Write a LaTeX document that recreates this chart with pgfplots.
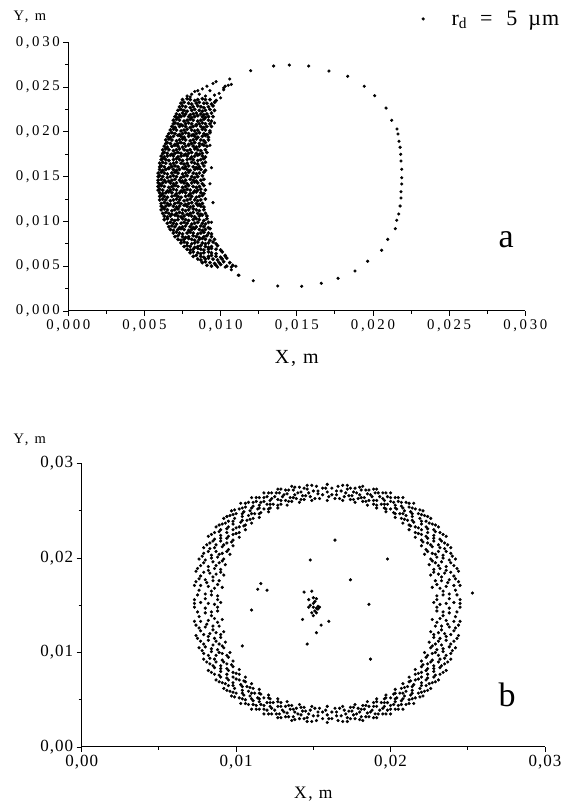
\documentclass[border=0pt]{standalone}
\usepackage{fontspec}
\setmainfont{Liberation Serif}
\newfontfamily\ftickA[LetterSpace=18]{Liberation Serif}
\newfontfamily\ftickB[LetterSpace=6]{Liberation Serif}
\newfontfamily\flab[LetterSpace=10]{Liberation Serif}
\newfontfamily\flabY[LetterSpace=18]{Liberation Serif}
\usepackage{pgfplots}
\pgfplotsset{compat=1.18}
\pgfplotsset{
  myax/.style={
    scale only axis,
    axis x line=bottom, axis y line=left,
    axis line style={-, line width=1pt},
    every outer x axis line/.append style={-},
    every outer y axis line/.append style={-},
    tick align=outside,
    major tick length=5pt, minor tick length=3pt,
    tick style={line width=0.9pt, black},
    minor tick num=1,
    scaled ticks=false,
    /pgf/number format/assume math mode=true,
    clip=false,
    xmin=0, xmax=0.03, ymin=0, ymax=0.03,
  }
}
\begin{document}
\begin{tikzpicture}
\useasboundingbox (0pt,0pt) rectangle (564pt,805pt);
% ---------------- panel a ----------------
\begin{axis}[myax, at={(68.3pt,494pt)}, anchor=south west,
  width=457pt, height=268.7pt,
  xtick={0,0.005,0.01,0.015,0.02,0.025,0.03},
  ytick={0,0.005,0.01,0.015,0.02,0.025,0.03},
  tick label style={font=\ftickA\fontsize{14.8}{17}\selectfont},
  xticklabel style={/pgf/number format/fixed, /pgf/number format/fixed zerofill, /pgf/number format/precision=3, /pgf/number format/use comma},
  yticklabel style={/pgf/number format/fixed, /pgf/number format/fixed zerofill, /pgf/number format/precision=3, /pgf/number format/use comma},
  legend style={at={(rel axis cs:0.773,1.087)}, anchor=west, draw=none, fill=none, inner sep=0pt, column sep=25pt},
]
% sparse drops (outer arc and edges of the cloud)
\addplot[only marks, mark=*, mark size=1.4pt, black] table[x expr=\thisrowno{0}/1000, y expr=\thisrowno{1}/1000] {
11.97 26.83
13.48 27.35
14.51 27.46
15.78 27.35
17.11 26.79
18.34 26.20
19.43 25.09
20.11 24.04
20.86 22.66
21.23 21.29
21.58 20.32
21.64 19.76
21.71 18.95
21.78 18.28
21.82 17.49
21.84 16.75
21.89 15.82
21.89 14.88
21.89 14.18
21.84 13.32
21.84 12.62
21.78 11.72
21.69 10.83
21.56 10.13
21.47 9.19
20.97 8.00
20.57 6.78
19.65 5.55
18.82 4.47
17.71 3.65
16.61 3.09
15.32 2.76
13.75 2.79
12.14 3.38
11.16 3.99
10.7 4.9
10.3 4.9
11.2 4.0
10.7 4.6
11.0 5.0
9.8 4.9
10.3 6.1
10.6 25.9
10.7 25.3
10.3 25.1
10.2 24.7
10.5 25.2
10.2 24.9
9.7 25.6
9.5 25.4
9.1 25.1
8.8 24.8
8.3 24.5
8.0 23.9
9.9 24.3
9.3 24.6
8.6 24.2
9.0 24.0
8.5 24.6
9.6 24.1
8.1 24.2
7.8 24.0
10.0 23.8
9.4 9.9
9.5 12.1
9.3 14.2
9.4 16.0
9.3 18.5
9.6 21.0
};
\addlegendentry{\fontsize{22}{26}\selectfont r\textsubscript{d}\hspace{13pt}=\hspace{14pt}5\hspace{11pt}µ\hspace{1pt}m}
% dense cloud
\addplot[only marks, mark=*, mark size=1.7pt, black, forget plot] table[x expr=\thisrowno{0}/1000, y expr=\thisrowno{1}/1000] {
7.5 23.6
7.8 23.7
8.0 23.6
8.3 23.5
8.5 23.6
8.8 23.7
9.0 23.6
9.3 23.6
9.7 23.5
7.4 23.2
7.6 23.3
7.9 23.2
8.1 23.1
8.4 23.2
8.6 23.3
8.9 23.2
9.1 23.2
9.4 23.1
9.6 23.3
7.3 22.8
7.5 22.9
7.7 22.8
8.0 22.7
8.2 22.8
8.5 22.9
8.7 22.8
8.9 22.7
9.2 22.8
9.5 22.9
7.2 22.4
7.4 22.5
7.6 22.4
7.8 22.3
8.1 22.4
8.3 22.5
8.6 22.4
8.8 22.3
9.0 22.4
9.3 22.5
9.6 22.4
7.1 22.0
7.3 21.9
7.5 22.1
7.7 22.0
8.0 21.9
8.2 22.0
8.4 22.1
8.7 22.0
8.9 21.9
9.1 22.0
9.4 22.1
7.0 21.7
7.2 21.6
7.4 21.7
7.6 21.8
7.9 21.7
8.1 21.6
8.3 21.7
8.5 21.8
8.8 21.7
9.0 21.6
9.2 21.7
9.5 21.7
6.9 21.3
7.1 21.4
7.3 21.3
7.6 21.2
7.8 21.3
8.0 21.4
8.2 21.3
8.5 21.2
8.7 21.3
8.9 21.4
9.2 21.3
9.4 21.2
6.9 20.9
7.0 21.0
7.2 20.9
7.4 20.8
7.7 20.9
7.9 21.0
8.1 20.9
8.4 20.8
8.6 20.9
8.8 21.0
9.0 20.9
9.3 20.9
6.8 20.6
7.0 20.5
7.3 20.6
7.5 20.7
7.7 20.6
8.0 20.5
8.2 20.6
8.4 20.7
8.7 20.6
8.9 20.5
9.1 20.6
9.4 20.6
6.7 20.2
6.9 20.3
7.1 20.2
7.4 20.1
7.6 20.2
7.8 20.3
8.1 20.2
8.3 20.1
8.5 20.2
8.8 20.3
9.0 20.2
9.3 20.1
6.6 19.8
6.8 19.9
7.0 19.8
7.3 19.7
7.5 19.8
7.7 19.9
7.9 19.8
8.2 19.7
8.4 19.8
8.6 19.9
8.9 19.8
9.1 19.7
9.3 19.9
6.5 19.5
6.7 19.4
6.9 19.5
7.2 19.6
7.4 19.5
7.6 19.4
7.9 19.5
8.1 19.6
8.3 19.5
8.5 19.4
8.8 19.5
9.0 19.6
9.2 19.4
6.4 19.1
6.6 19.2
6.8 19.1
7.1 19.0
7.3 19.1
7.5 19.2
7.7 19.1
8.0 19.0
8.2 19.1
8.4 19.2
8.7 19.1
8.9 19.0
9.2 19.1
6.4 18.7
6.5 18.8
6.7 18.7
7.0 18.6
7.2 18.7
7.4 18.8
7.6 18.7
7.9 18.6
8.1 18.7
8.3 18.8
8.6 18.7
8.8 18.6
9.0 18.8
6.3 18.4
6.5 18.3
6.8 18.4
7.0 18.5
7.2 18.4
7.5 18.3
7.7 18.4
7.9 18.5
8.2 18.4
8.4 18.3
8.6 18.4
8.9 18.5
9.1 18.4
6.2 18.0
6.4 18.1
6.6 18.0
6.9 17.9
7.1 18.0
7.3 18.1
7.6 18.0
7.8 17.9
8.0 18.0
8.3 18.1
8.5 18.0
8.7 17.9
9.0 18.0
6.2 17.6
6.3 17.7
6.5 17.6
6.8 17.5
7.0 17.6
7.2 17.7
7.4 17.6
7.7 17.5
7.9 17.6
8.1 17.7
8.4 17.6
8.6 17.5
8.8 17.6
9.1 17.7
6.1 17.3
6.3 17.2
6.5 17.3
6.7 17.4
6.9 17.3
7.2 17.2
7.4 17.3
7.6 17.4
7.8 17.3
8.1 17.2
8.3 17.3
8.5 17.4
8.8 17.3
9.0 17.2
6.1 16.9
6.2 17.0
6.4 16.9
6.6 16.8
6.9 16.9
7.1 17.0
7.3 16.9
7.5 16.8
7.8 16.9
8.0 17.0
8.2 16.9
8.5 16.8
8.7 16.9
8.9 17.0
6.0 16.5
6.2 16.6
6.4 16.5
6.7 16.4
6.9 16.5
7.1 16.6
7.4 16.5
7.6 16.4
7.8 16.5
8.1 16.6
8.3 16.5
8.5 16.4
8.8 16.5
9.0 16.6
6.0 16.1
6.1 16.2
6.3 16.1
6.6 16.0
6.8 16.1
7.0 16.2
7.2 16.1
7.5 16.0
7.7 16.1
7.9 16.2
8.2 16.1
8.4 16.0
8.6 16.1
8.9 16.2
6.0 15.8
6.2 15.7
6.4 15.8
6.6 15.9
6.9 15.8
7.1 15.7
7.3 15.8
7.6 15.9
7.8 15.8
8.0 15.7
8.3 15.8
8.5 15.9
8.7 15.8
9.0 15.7
5.9 15.4
6.1 15.5
6.3 15.4
6.5 15.3
6.8 15.4
7.0 15.5
7.2 15.4
7.5 15.3
7.7 15.4
7.9 15.5
8.2 15.4
8.4 15.3
8.6 15.4
8.9 15.5
5.9 15.0
6.0 15.1
6.2 15.0
6.5 14.9
6.7 15.0
6.9 15.1
7.1 15.0
7.4 14.9
7.6 15.0
7.8 15.1
8.1 15.0
8.3 14.9
8.5 15.0
8.8 15.1
5.9 14.6
6.1 14.7
6.3 14.6
6.6 14.5
6.8 14.6
7.0 14.7
7.3 14.6
7.5 14.5
7.7 14.6
8.0 14.7
8.2 14.6
8.4 14.5
8.7 14.6
8.9 14.7
5.9 14.3
6.0 14.2
6.2 14.3
6.4 14.4
6.7 14.3
6.9 14.2
7.1 14.3
7.4 14.4
7.6 14.3
7.8 14.2
8.1 14.3
8.3 14.4
8.5 14.3
8.8 14.2
5.9 13.9
6.1 14.0
6.3 13.9
6.6 13.8
6.8 13.9
7.0 14.0
7.2 13.9
7.5 13.8
7.7 13.9
7.9 14.0
8.2 13.9
8.4 13.8
8.6 13.9
8.9 14.0
5.9 13.5
6.0 13.6
6.2 13.5
6.5 13.4
6.7 13.5
6.9 13.6
7.1 13.5
7.4 13.4
7.6 13.5
7.8 13.6
8.0 13.5
8.3 13.4
8.5 13.5
8.7 13.6
9.0 13.5
6.0 13.2
6.2 13.1
6.4 13.2
6.6 13.3
6.8 13.2
7.1 13.1
7.3 13.2
7.5 13.3
7.7 13.2
8.0 13.1
8.2 13.2
8.4 13.3
8.7 13.2
8.9 13.1
6.0 12.8
6.1 12.9
6.3 12.8
6.5 12.7
6.8 12.8
7.0 12.9
7.2 12.8
7.4 12.7
7.7 12.8
7.9 12.9
8.1 12.8
8.4 12.7
8.6 12.8
8.8 12.9
6.0 12.4
6.2 12.5
6.4 12.4
6.7 12.3
6.9 12.4
7.1 12.5
7.3 12.4
7.6 12.3
7.8 12.4
8.0 12.5
8.3 12.4
8.5 12.3
8.7 12.4
9.0 12.5
6.1 12.0
6.3 12.1
6.5 12.0
6.7 11.9
7.0 12.0
7.2 12.1
7.4 12.0
7.7 11.9
7.9 12.0
8.1 12.1
8.4 12.0
8.6 11.9
8.8 12.0
6.1 11.7
6.2 11.6
6.4 11.7
6.6 11.8
6.9 11.7
7.1 11.6
7.3 11.7
7.6 11.8
7.8 11.7
8.0 11.6
8.2 11.7
8.5 11.8
8.7 11.7
8.9 11.6
6.1 11.3
6.3 11.4
6.5 11.3
6.8 11.2
7.0 11.3
7.2 11.4
7.5 11.3
7.7 11.2
7.9 11.3
8.2 11.4
8.4 11.3
8.6 11.2
8.9 11.3
6.2 10.9
6.4 11.0
6.6 10.9
6.8 10.8
7.1 10.9
7.3 11.0
7.5 10.9
7.8 10.8
8.0 10.9
8.2 11.0
8.5 10.9
8.7 10.8
9.0 10.9
6.3 10.6
6.5 10.5
6.7 10.6
7.0 10.7
7.2 10.6
7.4 10.5
7.6 10.6
7.9 10.7
8.1 10.6
8.3 10.5
8.6 10.6
8.8 10.7
9.1 10.6
6.3 10.2
6.5 10.3
6.8 10.2
7.0 10.1
7.2 10.2
7.5 10.3
7.7 10.2
7.9 10.1
8.2 10.2
8.4 10.3
8.6 10.2
8.9 10.1
9.1 10.3
6.5 9.8
6.7 9.9
6.9 9.8
7.1 9.7
7.4 9.8
7.6 9.9
7.8 9.8
8.1 9.7
8.3 9.8
8.5 9.9
8.8 9.8
9.0 9.7
9.2 9.9
6.6 9.4
6.8 9.5
7.0 9.4
7.3 9.3
7.5 9.4
7.7 9.5
8.0 9.4
8.2 9.3
8.4 9.4
8.7 9.5
8.9 9.4
9.2 9.3
6.7 9.1
6.9 9.0
7.2 9.1
7.4 9.2
7.6 9.1
7.9 9.0
8.1 9.1
8.3 9.2
8.6 9.1
8.8 9.0
9.0 9.1
9.3 9.2
6.9 8.7
7.1 8.8
7.3 8.7
7.5 8.6
7.8 8.7
8.0 8.8
8.2 8.7
8.5 8.6
8.7 8.7
8.9 8.8
9.2 8.7
9.4 8.6
7.0 8.3
7.2 8.4
7.5 8.3
7.7 8.2
7.9 8.3
8.2 8.4
8.4 8.3
8.6 8.2
8.9 8.3
9.1 8.4
9.4 8.3
7.2 8.0
7.4 7.9
7.6 8.0
7.9 8.1
8.1 8.0
8.3 7.9
8.6 8.0
8.8 8.1
9.0 8.0
9.3 7.9
9.6 8.0
7.4 7.6
7.6 7.7
7.8 7.6
8.1 7.5
8.3 7.6
8.5 7.7
8.8 7.6
9.0 7.5
9.2 7.6
9.5 7.7
9.7 7.5
7.6 7.2
7.8 7.3
8.0 7.2
8.3 7.1
8.5 7.2
8.7 7.3
9.0 7.2
9.2 7.1
9.4 7.2
9.8 7.3
7.8 6.9
8.0 6.8
8.2 6.9
8.5 7.0
8.7 6.9
8.9 6.8
9.2 6.9
9.4 7.0
9.7 6.9
10.0 6.8
8.0 6.5
8.2 6.6
8.5 6.5
8.7 6.4
8.9 6.5
9.2 6.6
9.4 6.5
9.7 6.4
10.1 6.6
8.2 6.1
8.4 6.2
8.7 6.1
8.9 6.0
9.2 6.1
9.4 6.2
9.7 6.1
10.0 6.0
10.3 6.2
8.5 5.8
8.7 5.7
9.0 5.8
9.2 5.9
9.5 5.8
9.8 5.7
10.1 5.8
10.4 5.9
8.8 5.4
9.0 5.5
9.3 5.4
9.6 5.3
9.9 5.4
10.2 5.5
10.6 5.4
9.1 5.1
9.4 5.0
9.7 5.1
10.0 5.2
10.4 5.0
10.8 5.1
};
\node[font=\flabY\fontsize{14.5}{17}\selectfont] at (rel axis cs:-0.084,1.094) {Y, m};
\node[font=\flab\fontsize{20}{24}\selectfont] at (rel axis cs:0.5,-0.175) {X, m};
\node[font=\fontsize{34}{40}\selectfont] at (rel axis cs:0.958,0.264) {a};
\end{axis}
% ---------------- panel b ----------------
\begin{axis}[myax, at={(81.7pt,58pt)}, anchor=south west,
  width=463.3pt, height=283.4pt,
  xtick={0,0.01,0.02,0.03},
  ytick={0,0.01,0.02,0.03},
  tick label style={font=\ftickB\fontsize{17}{20}\selectfont},
  xticklabel style={/pgf/number format/fixed, /pgf/number format/fixed zerofill, /pgf/number format/precision=2, /pgf/number format/use comma},
  yticklabel style={/pgf/number format/fixed, /pgf/number format/fixed zerofill, /pgf/number format/precision=2, /pgf/number format/use comma},
]
\addplot[only marks, mark=*, mark size=1.4pt, black] table[x expr=\thisrowno{0}/1000, y expr=\thisrowno{1}/1000] {
22.8 15.3
23.2 15.1
23.6 15.2
24.1 15.3
24.5 15.2
23.0 16.0
23.4 16.1
23.8 16.2
24.3 16.1
22.7 16.9
23.2 16.8
23.6 17.0
24.1 17.1
24.5 17.1
22.9 17.6
23.3 17.6
23.8 17.7
24.2 17.8
22.6 18.2
23.1 18.3
23.5 18.4
23.9 18.5
24.4 18.6
22.8 18.8
23.2 18.9
23.6 19.1
24.1 19.2
22.5 19.3
22.9 19.5
23.3 19.6
23.8 19.8
24.2 19.9
22.6 19.9
23.0 20.1
23.4 20.3
23.9 20.5
22.2 20.4
22.7 20.5
23.1 20.7
23.5 21.0
23.9 21.1
22.3 20.9
22.7 21.2
23.1 21.4
23.5 21.6
22.0 21.3
22.4 21.6
22.8 21.8
23.2 22.0
23.6 22.3
22.0 21.9
22.4 22.1
22.8 22.4
23.2 22.7
21.6 22.2
22.0 22.5
22.4 22.7
22.8 23.0
23.1 23.3
21.6 22.7
22.0 23.0
22.3 23.3
22.7 23.6
21.2 23.0
21.6 23.3
22.0 23.6
22.3 23.9
22.6 24.2
21.2 23.5
21.5 23.8
21.9 24.2
22.2 24.5
20.8 23.7
21.1 24.0
21.4 24.4
21.8 24.7
22.1 25.0
20.7 24.2
21.0 24.5
21.3 24.9
21.6 25.2
20.3 24.3
20.6 24.7
20.9 25.0
21.2 25.4
21.5 25.8
20.2 24.8
20.4 25.2
20.7 25.5
21.0 25.9
19.7 24.9
20.0 25.2
20.3 25.6
20.5 26.0
20.8 26.4
19.6 25.3
19.8 25.7
20.0 26.0
20.3 26.4
19.1 25.3
19.4 25.7
19.6 26.1
19.8 26.5
20.0 26.9
18.9 25.7
19.1 26.1
19.3 26.5
19.5 26.9
18.5 25.6
18.6 26.1
18.8 26.5
19.0 26.9
19.1 27.3
18.2 26.0
18.3 26.4
18.5 26.8
18.6 27.2
17.7 25.9
17.9 26.3
18.0 26.7
18.1 27.2
18.2 27.6
17.4 26.2
17.5 26.6
17.6 27.0
17.7 27.4
16.9 26.1
17.0 26.5
17.1 26.9
17.2 27.3
17.2 27.7
16.4 26.3
16.5 26.7
16.5 27.1
16.6 27.6
15.9 26.1
16.0 26.5
15.9 27.0
15.8 27.4
15.9 27.8
15.4 26.3
15.3 26.8
15.3 27.1
15.2 27.6
14.9 26.1
14.8 26.5
14.7 26.9
14.6 27.3
14.6 27.7
14.4 26.2
14.3 26.6
14.2 27.0
14.1 27.5
14.1 25.9
13.9 26.3
13.8 26.7
13.7 27.2
13.6 27.6
13.6 26.0
13.5 26.4
13.3 26.8
13.2 27.2
13.3 25.6
13.2 26.1
13.0 26.5
12.8 26.9
12.7 27.3
12.9 25.7
12.7 26.2
12.5 26.5
12.3 26.9
12.7 25.3
12.4 25.7
12.2 26.1
12.0 26.5
11.8 26.9
12.2 25.3
12.0 25.7
11.8 26.0
11.5 26.4
12.1 24.9
11.8 25.2
11.5 25.6
11.3 26.0
11.0 26.4
11.6 24.8
11.4 25.2
11.1 25.5
10.8 25.9
11.5 24.3
11.2 24.7
10.9 25.0
10.6 25.4
10.3 25.8
11.1 24.2
10.8 24.5
10.5 24.9
10.2 25.2
11.0 23.7
10.7 24.0
10.4 24.4
10.0 24.7
9.7 25.0
10.6 23.5
10.3 23.8
9.9 24.2
9.6 24.5
10.6 23.0
10.2 23.3
9.8 23.6
9.5 23.9
9.2 24.2
10.2 22.7
9.8 23.0
9.5 23.3
9.1 23.6
10.2 22.2
9.8 22.5
9.4 22.7
9.0 23.0
8.7 23.3
9.8 21.9
9.4 22.1
9.0 22.4
8.6 22.7
9.8 21.3
9.4 21.6
9.0 21.8
8.6 22.0
8.2 22.3
9.5 20.9
9.1 21.2
8.7 21.4
8.3 21.6
9.6 20.4
9.1 20.5
8.7 20.7
8.3 21.0
7.9 21.1
9.2 19.9
8.8 20.1
8.4 20.3
7.9 20.5
9.3 19.3
8.9 19.5
8.5 19.6
8.0 19.8
7.6 19.9
9.0 18.8
8.6 18.9
8.2 19.1
7.7 19.2
9.2 18.2
8.7 18.3
8.3 18.4
7.9 18.5
7.4 18.6
8.9 17.6
8.5 17.6
8.0 17.7
7.6 17.8
9.1 16.9
8.6 16.8
8.2 17.0
7.7 17.1
7.3 17.1
8.8 16.0
8.4 16.1
8.0 16.2
7.5 16.1
9.0 15.3
8.6 15.1
8.2 15.2
7.7 15.3
7.3 15.2
8.8 14.4
8.4 14.3
8.0 14.2
7.5 14.3
9.1 13.5
8.6 13.6
8.2 13.4
7.7 13.3
7.3 13.3
8.9 12.8
8.5 12.8
8.0 12.7
7.6 12.6
9.2 12.2
8.7 12.1
8.3 12.0
7.9 11.9
7.4 11.8
9.0 11.6
8.6 11.5
8.2 11.3
7.7 11.2
9.3 11.1
8.9 10.9
8.5 10.8
8.0 10.6
7.6 10.5
9.2 10.5
8.8 10.3
8.4 10.1
7.9 9.9
9.6 10.0
9.1 9.9
8.7 9.7
8.3 9.4
7.9 9.3
9.5 9.5
9.1 9.2
8.7 9.0
8.3 8.8
9.8 9.1
9.4 8.8
9.0 8.6
8.6 8.4
8.2 8.1
9.8 8.5
9.4 8.3
9.0 8.0
8.6 7.7
10.2 8.2
9.8 7.9
9.4 7.7
9.0 7.4
8.7 7.1
10.2 7.7
9.8 7.4
9.5 7.1
9.1 6.8
10.6 7.4
10.2 7.1
9.8 6.8
9.5 6.5
9.2 6.2
10.6 6.9
10.3 6.6
9.9 6.2
9.6 5.9
11.0 6.7
10.7 6.4
10.4 6.0
10.0 5.7
9.7 5.4
11.1 6.2
10.8 5.9
10.5 5.5
10.2 5.2
11.5 6.1
11.2 5.7
10.9 5.4
10.6 5.0
10.3 4.6
11.6 5.6
11.4 5.2
11.1 4.9
10.8 4.5
12.1 5.5
11.8 5.2
11.5 4.8
11.3 4.4
11.0 4.0
12.2 5.1
12.0 4.7
11.8 4.4
11.5 4.0
12.7 5.1
12.4 4.7
12.2 4.3
12.0 3.9
11.8 3.5
12.9 4.7
12.7 4.3
12.5 3.9
12.3 3.5
13.3 4.8
13.2 4.3
13.0 3.9
12.8 3.5
12.7 3.1
13.6 4.4
13.5 4.0
13.3 3.6
13.2 3.2
14.1 4.5
13.9 4.1
13.8 3.7
13.7 3.2
13.6 2.8
14.4 4.2
14.3 3.8
14.2 3.4
14.1 3.0
14.9 4.3
14.8 3.9
14.7 3.5
14.6 3.1
14.6 2.7
15.4 4.1
15.3 3.7
15.3 3.3
15.2 2.8
15.9 4.3
15.8 3.9
15.9 3.4
16.0 3.0
15.9 2.6
16.4 4.1
16.5 3.7
16.5 3.3
16.6 2.8
16.9 4.3
17.0 3.9
17.1 3.5
17.2 3.1
17.2 2.7
17.4 4.2
17.5 3.8
17.6 3.4
17.7 3.0
17.7 4.5
17.9 4.1
18.0 3.7
18.1 3.2
18.2 2.8
18.2 4.4
18.3 4.0
18.5 3.6
18.6 3.2
18.5 4.8
18.6 4.3
18.8 3.9
19.0 3.5
19.1 3.1
18.9 4.7
19.1 4.3
19.3 3.9
19.5 3.5
19.1 5.1
19.4 4.7
19.6 4.3
19.8 3.9
20.0 3.5
19.6 5.1
19.8 4.7
20.0 4.4
20.3 4.0
19.7 5.5
20.0 5.2
20.3 4.8
20.5 4.4
20.8 4.0
20.2 5.6
20.4 5.2
20.7 4.9
21.0 4.5
20.3 6.1
20.6 5.7
20.9 5.4
21.2 5.0
21.5 4.6
20.7 6.2
21.0 5.9
21.3 5.5
21.6 5.2
20.8 6.7
21.1 6.4
21.4 6.0
21.8 5.7
22.1 5.4
21.2 6.9
21.5 6.6
21.9 6.2
22.2 5.9
21.2 7.4
21.6 7.1
22.0 6.8
22.3 6.5
22.6 6.2
21.6 7.7
22.0 7.4
22.3 7.1
22.7 6.8
21.6 8.2
22.0 7.9
22.4 7.7
22.8 7.4
23.1 7.1
22.0 8.5
22.4 8.3
22.8 8.0
23.2 7.7
22.0 9.1
22.4 8.8
22.8 8.6
23.2 8.4
23.6 8.1
22.3 9.5
22.7 9.2
23.1 9.0
23.5 8.8
22.2 10.0
22.7 9.9
23.1 9.7
23.5 9.4
23.9 9.3
22.6 10.5
23.0 10.3
23.4 10.1
23.9 9.9
22.5 11.1
22.9 10.9
23.3 10.8
23.8 10.6
24.2 10.5
22.8 11.6
23.2 11.5
23.6 11.3
24.1 11.2
22.6 12.2
23.1 12.1
23.5 12.0
23.9 11.9
24.4 11.8
22.9 12.8
23.3 12.8
23.8 12.7
24.2 12.6
22.7 13.5
23.2 13.6
23.6 13.4
24.1 13.3
24.5 13.3
23.0 14.4
23.4 14.3
23.8 14.2
24.3 14.3
23.0 15.6
23.8 15.7
24.5 15.6
23.4 16.5
24.2 16.6
23.0 17.2
23.7 17.4
24.4 17.5
23.3 18.0
24.1 18.1
22.8 18.5
23.6 18.7
24.3 18.9
23.1 19.2
23.9 19.5
22.7 19.7
23.4 20.0
24.0 20.2
22.9 20.4
23.6 20.7
22.4 20.7
23.2 21.1
23.7 21.4
22.6 21.4
23.3 21.8
22.1 21.7
22.8 22.1
23.4 22.5
22.3 22.3
22.9 22.8
21.8 22.6
22.4 23.1
22.9 23.5
21.8 23.2
22.5 23.7
21.3 23.4
22.0 23.9
22.4 24.4
21.4 24.0
22.0 24.6
20.9 24.1
21.4 24.7
21.9 25.1
20.8 24.7
21.4 25.3
20.3 24.7
20.8 25.3
21.2 25.8
20.3 25.3
20.7 25.9
19.7 25.2
20.2 25.9
20.5 26.4
19.6 25.7
20.0 26.4
19.1 25.6
19.5 26.3
19.7 26.9
18.9 26.1
19.2 26.9
18.4 26.0
18.7 26.7
18.9 27.3
18.1 26.4
18.4 27.2
17.6 26.2
17.8 26.9
18.0 27.5
17.3 26.6
17.4 27.4
16.7 26.3
16.8 27.1
16.9 27.7
16.2 26.7
16.2 27.4
8.8 15.6
8.0 15.7
7.3 15.6
8.4 16.5
7.6 16.6
8.8 17.2
8.1 17.4
7.4 17.5
8.5 18.0
7.7 18.1
9.0 18.5
8.2 18.7
7.5 18.9
8.7 19.2
7.9 19.5
9.1 19.7
8.4 20.0
7.8 20.2
8.9 20.4
8.2 20.7
9.4 20.7
8.6 21.1
8.1 21.4
9.2 21.4
8.5 21.8
9.7 21.7
9.0 22.1
8.4 22.5
9.5 22.3
8.9 22.8
10.0 22.6
9.4 23.1
8.9 23.5
10.0 23.2
9.3 23.7
10.5 23.4
9.8 23.9
9.4 24.4
10.4 24.0
9.8 24.6
10.9 24.1
10.4 24.7
9.9 25.1
11.0 24.7
10.4 25.3
11.5 24.7
11.0 25.3
10.6 25.8
11.5 25.3
11.1 25.9
12.1 25.2
11.6 25.9
11.3 26.4
12.2 25.7
11.8 26.4
12.7 25.6
12.3 26.3
12.1 26.9
12.9 26.1
12.6 26.9
13.4 26.0
13.1 26.7
12.9 27.3
13.7 26.4
13.4 27.2
14.2 26.2
14.0 26.9
13.8 27.5
14.5 26.6
14.4 27.4
15.1 26.3
15.0 27.1
14.9 27.7
15.6 26.7
15.6 27.4
8.8 14.8
8.0 14.7
7.3 14.8
8.4 13.9
7.6 13.8
8.8 13.2
8.1 13.0
7.4 12.9
8.5 12.4
7.7 12.3
9.0 11.9
8.2 11.7
7.5 11.5
8.7 11.2
7.9 10.9
9.1 10.7
8.4 10.4
7.8 10.2
8.9 10.0
8.2 9.7
9.4 9.7
8.6 9.3
8.1 9.0
9.2 9.0
8.5 8.6
9.7 8.7
9.0 8.3
8.4 7.9
9.5 8.1
8.9 7.6
10.0 7.8
9.4 7.3
8.9 6.9
10.0 7.2
9.3 6.7
10.5 7.0
9.8 6.5
9.4 6.0
10.4 6.4
9.8 5.8
10.9 6.3
10.4 5.7
9.9 5.3
11.0 5.7
10.4 5.1
11.5 5.7
11.0 5.1
10.6 4.6
11.5 5.1
11.1 4.5
12.1 5.2
11.6 4.5
11.3 4.0
12.2 4.7
11.8 4.0
12.7 4.8
12.3 4.1
12.1 3.5
12.9 4.3
12.6 3.5
13.4 4.4
13.1 3.7
12.9 3.1
13.7 4.0
13.4 3.2
14.2 4.2
14.0 3.5
13.8 2.9
14.5 3.8
14.4 3.0
15.1 4.1
15.0 3.3
14.9 2.7
15.6 3.7
15.6 3.0
23.0 14.8
23.8 14.7
24.5 14.8
23.4 13.9
24.2 13.8
23.0 13.2
23.7 13.0
24.4 12.9
23.3 12.4
24.1 12.3
22.8 11.9
23.6 11.7
24.3 11.5
23.1 11.2
23.9 10.9
22.7 10.7
23.4 10.4
24.0 10.2
22.9 10.0
23.6 9.7
22.4 9.7
23.2 9.3
23.7 9.0
22.6 9.0
23.3 8.6
22.1 8.7
22.8 8.3
23.4 7.9
22.3 8.1
22.9 7.6
21.8 7.8
22.4 7.3
22.9 6.9
21.8 7.2
22.5 6.7
21.3 7.0
22.0 6.5
22.4 6.0
21.4 6.4
22.0 5.8
20.9 6.3
21.4 5.7
21.9 5.3
20.8 5.7
21.4 5.1
20.3 5.7
20.8 5.1
21.2 4.6
20.3 5.1
20.7 4.5
19.7 5.2
20.2 4.5
20.5 4.0
19.6 4.7
20.0 4.0
19.1 4.8
19.5 4.1
19.7 3.5
18.9 4.3
19.2 3.5
18.4 4.4
18.7 3.7
18.9 3.1
18.1 4.0
18.4 3.2
17.6 4.2
17.8 3.5
18.0 2.9
17.3 3.8
17.4 3.0
16.7 4.1
16.8 3.3
16.9 2.7
16.2 3.7
16.2 3.0
15.1 15.4
15.2 15.7
15.0 15.2
15.3 14.9
15.0 14.8
15.3 14.6
15.1 14.4
14.9 14.2
15.2 14.2
15.0 13.9
14.7 15.6
14.8 15.0
15.4 14.8
14.7 14.8
15.2 14.7
15.0 15.8
16.4 21.9
14.8 19.8
17.4 17.7
11.6 17.3
11.4 16.7
12.0 16.6
11.0 14.5
14.4 16.4
14.9 16.5
14.3 13.5
15.5 12.9
16.0 13.3
15.2 12.1
14.6 10.9
10.4 10.7
18.6 15.1
18.7 9.3
19.8 19.9
25.3 16.3
};
\node[font=\flabY\fontsize{14.5}{17}\selectfont] at (rel axis cs:-0.112,1.083) {Y, m};
\node[font=\flab\fontsize{17.5}{21}\selectfont] at (rel axis cs:0.5,-0.166) {X, m};
\node[font=\fontsize{34}{40}\selectfont] at (rel axis cs:0.918,0.183) {b};
\end{axis}
\end{tikzpicture}
\end{document}
